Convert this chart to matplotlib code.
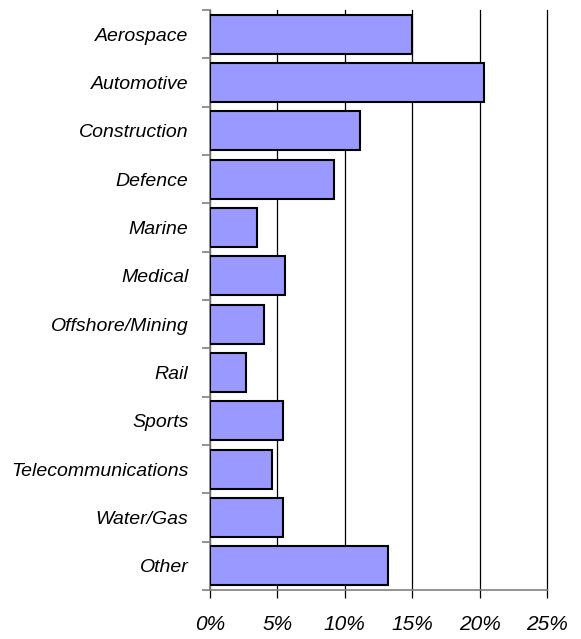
import matplotlib
matplotlib.use("Agg")
import matplotlib.pyplot as plt
import numpy as np

categories = ["Aerospace", "Automotive", "Construction", "Defence", "Marine", "Medical",
              "Offshore/Mining", "Rail", "Sports", "Telecommunications", "Water/Gas", "Other"]
values = [15.0, 20.3, 11.1, 9.2, 3.5, 5.6, 4.0, 2.65, 5.45, 4.6, 5.45, 13.2]
xticks = [0, 5, 10, 15, 20, 25]
xticklabels = ["0%", "5%", "10%", "15%", "20%", "25%"]

plt.rcParams['font.family'] = ['Liberation Sans', 'DejaVu Sans']

fig = plt.figure(figsize=(5.81, 6.39), dpi=100)
ax = fig.add_axes([210/581, 1-590/639, 337/581, 580/639])

n = len(categories)
y = np.arange(n)
ax.barh(y, values, height=0.81, color="#9999FF", edgecolor="black", linewidth=1.5, zorder=3)

ax.set_ylim(n - 0.5, -0.5)
ax.set_xlim(0, 25)

ax.set_xticks(xticks)
ax.set_xticklabels(xticklabels, fontsize=15, style='italic')
ax.xaxis.grid(True, color="black", linewidth=0.9, zorder=0)
for gl in ax.get_xgridlines():
    gl.set_clip_on(False)

ax.set_yticks(y)
ax.set_yticklabels(categories, fontsize=14, style='italic')
ax.tick_params(axis='y', which='major', length=0, pad=15.5)
ax.set_yticks(np.arange(-0.5, n, 1.0), minor=True)
ax.tick_params(axis='y', which='minor', length=6, color="#808080", width=1.2)
ax.tick_params(axis='x', which='major', length=6, color="black", width=0.9, pad=12)

for s in ["top", "right"]:
    ax.spines[s].set_visible(False)
ax.spines["left"].set_color("#808080")
ax.spines["left"].set_linewidth(1.2)
ax.spines["bottom"].set_color("#808080")
ax.spines["bottom"].set_linewidth(1.2)

fig.savefig("out.png", dpi=100)
